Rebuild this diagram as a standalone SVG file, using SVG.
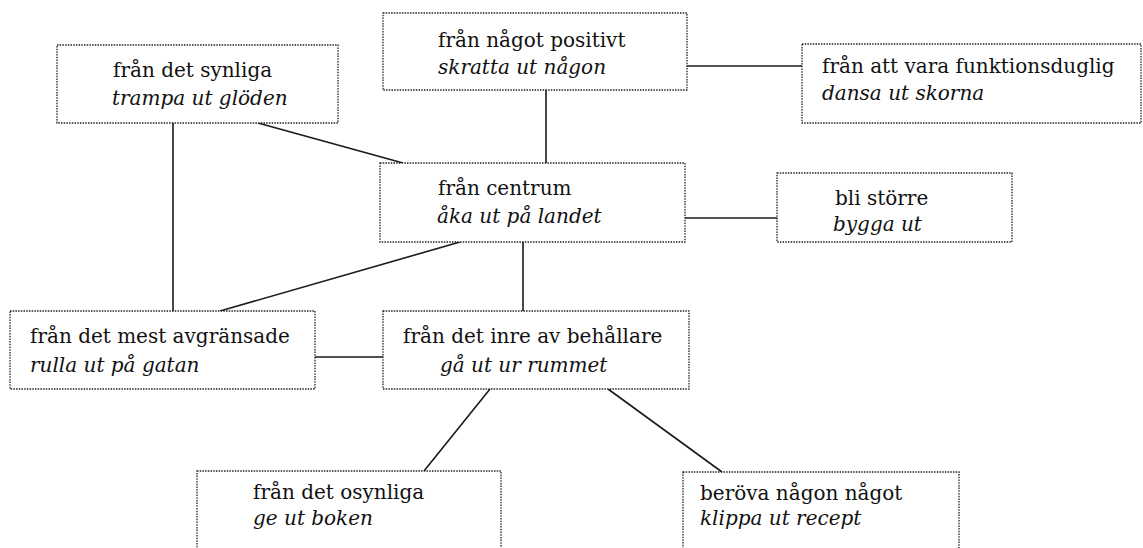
<svg xmlns="http://www.w3.org/2000/svg" width="1143" height="548" viewBox="0 0 1143 548">
<style>
.box{fill:#fff;stroke:#222;stroke-width:1.3;stroke-dasharray:1.5 1.2}
.c{stroke:#1a1a1a;stroke-width:1.6;fill:none}
text{font-family:"DejaVu Serif","Liberation Serif",serif;font-size:20px;fill:#111}
.i{font-style:italic}
</style>
<rect width="1143" height="548" fill="#fff"/>
<g id="connectors">
<line class="c" x1="173" y1="123" x2="173" y2="311"/>
<line class="c" x1="258" y1="123" x2="403" y2="163"/>
<line class="c" x1="546" y1="90" x2="546" y2="163"/>
<line class="c" x1="687" y1="66" x2="802" y2="66"/>
<line class="c" x1="685" y1="218" x2="777" y2="218"/>
<line class="c" x1="460" y1="242" x2="220" y2="311"/>
<line class="c" x1="523" y1="242" x2="523" y2="311"/>
<line class="c" x1="315" y1="357" x2="383" y2="357"/>
<line class="c" x1="490" y1="389" x2="424" y2="471"/>
<line class="c" x1="608" y1="389" x2="722" y2="472"/>
</g>
<g id="n-synliga">
<rect class="box" x="57" y="45" width="281" height="78"/>
<text x="113" y="77">från det synliga</text>
<text class="i" x="112" y="105">trampa ut glöden</text>
</g>
<g id="n-positivt">
<rect class="box" x="383" y="13" width="304" height="77"/>
<text x="438" y="47">från något positivt</text>
<text class="i" x="438" y="74">skratta ut någon</text>
</g>
<g id="n-funktionsduglig">
<rect class="box" x="802" y="44" width="339" height="79"/>
<text x="822" y="73">från att vara funktionsduglig</text>
<text class="i" x="822" y="100">dansa ut skorna</text>
</g>
<g id="n-centrum">
<rect class="box" x="380" y="163" width="305" height="79"/>
<text x="438" y="195">från centrum</text>
<text class="i" x="437" y="223">åka ut på landet</text>
</g>
<g id="n-storre">
<rect class="box" x="777" y="173" width="235" height="69"/>
<text x="835" y="205">bli större</text>
<text class="i" x="833" y="231">bygga ut</text>
</g>
<g id="n-avgransade">
<rect class="box" x="10" y="311" width="305" height="78"/>
<text x="30" y="343">från det mest avgränsade</text>
<text class="i" x="30" y="372">rulla ut på gatan</text>
</g>
<g id="n-behallare">
<rect class="box" x="383" y="311" width="306" height="78"/>
<text x="403" y="343">från det inre av behållare</text>
<text class="i" x="440" y="372">gå ut ur rummet</text>
</g>
<g id="n-osynliga">
<rect class="box" x="197" y="471" width="304" height="100"/>
<text x="253" y="499">från det osynliga</text>
<text class="i" x="253" y="525">ge ut boken</text>
</g>
<g id="n-berova">
<rect class="box" x="683" y="472" width="276" height="100"/>
<text x="700" y="500">beröva någon något</text>
<text class="i" x="700" y="525">klippa ut recept</text>
</g>
</svg>
